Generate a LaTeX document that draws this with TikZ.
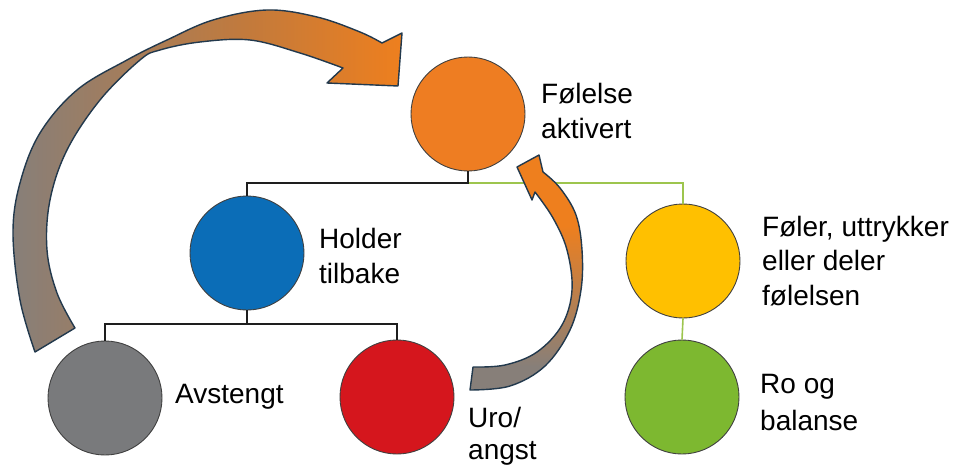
\documentclass[tikz,border=0pt]{standalone}
\usepackage{fontspec}
\setmainfont{Liberation Sans}
\definecolor{corange}{HTML}{EE7D22}
\definecolor{cblue}{HTML}{0B6DB7}
\definecolor{cyellow}{HTML}{FFC000}
\definecolor{cgray}{HTML}{797A7C}
\definecolor{cred}{HTML}{D5161D}
\definecolor{cgreen}{HTML}{7DB830}
\definecolor{cline}{HTML}{1E1E1E}
\definecolor{cgline}{HTML}{9DC54E}
\definecolor{agray}{HTML}{877F79}
\definecolor{abrown}{HTML}{C27A3C}
\definecolor{aorange}{HTML}{EE7F1E}
\definecolor{aedge}{HTML}{22394D}
\pgfdeclarehorizontalshading{bigarrowshade}{100bp}{color(0bp)=(agray); color(25bp)=(agray); color(55bp)=(abrown); color(75bp)=(aorange); color(100bp)=(aorange)}
\pgfdeclareverticalshading{smallarrowshade}{100bp}{color(0bp)=(agray); color(30bp)=(agray); color(60bp)=(aorange); color(100bp)=(aorange)}
\tikzset{
  circ/.style={circle, draw=black!75, line width=0.9pt, minimum size=114pt, inner sep=0pt},
  lbl/.style={anchor=base west, inner sep=0pt, font=\fontsize{28}{34}\selectfont, text=black},
  treeline/.style={draw=cline, line width=1.6pt},
  greenline/.style={draw=cgline, line width=1.6pt},
  arrowedge/.style={draw=aedge, line width=1.4pt, line join=round}
}
\begin{document}
\begin{tikzpicture}[x=1pt,y=-1pt]
\useasboundingbox (0,0) rectangle (960,468);
% circles
\node[circ, fill=corange] (orange) at (468,114) {};
\node[circ, fill=cblue] (blue) at (247,253) {};
\node[circ, fill=cyellow] (yellow) at (683,261) {};
\node[circ, fill=cgray] (gray) at (105,398) {};
\node[circ, fill=cred] (red) at (397,397) {};
\node[circ, fill=cgreen] (green) at (682,397) {};
% connectors
\coordinate (j1) at (468,183);
\coordinate (j2) at (247,324);
\draw[greenline] (j1) -| (yellow.north);
\draw[greenline] (yellow.south) -- (green.north);
\draw[treeline] (orange.south) -- (j1) -| (blue.north);
\draw[treeline] (blue.south) -- (j2) -| (gray.north);
\draw[treeline] (j2) -| (red.north);
% labels
\node[lbl] (t1a) at (541,103) {Følelse};
\node[lbl] (t1b) at (541,138) {aktivert};
\node[lbl] (t2a) at (319,248) {Holder};
\node[lbl] (t2b) at (319,283) {tilbake};
\node[lbl] (t3a) at (762,236) {Føler, uttrykker};
\node[lbl] (t3b) at (762,270) {eller deler};
\node[lbl] (t3c) at (762,305) {følelsen};
\node[lbl] (t4) at (175,403) {Avstengt};
\node[lbl] (t5a) at (468,427) {Uro/};
\node[lbl] (t5b) at (468,459) {angst};
\node[lbl] (t6a) at (760,393) {Ro og};
\node[lbl] (t6b) at (760,430) {balanse};
% big curved arrow
\shadedraw[shading=bigarrowshade, arrowedge]
  plot[smooth, tension=0.6] coordinates {(35,352) (20,300) (13,233) (20,183) (40,133) (77,90) (127,60) (167,40) (213,20) (267,10) (317,17) (360,32) (382,43)}
  -- (402,33) -- (398,86) -- (327,83)
  -- plot[smooth, tension=0.6] coordinates {(343,68) (300,53) (250,40) (200,42) (160,50) (140,60) (100,100) (67,150) (50,200) (47,250) (57,293) (75,328)}
  -- cycle;
% small curved arrow
\shadedraw[shading=smallarrowshade, arrowedge]
  plot[smooth, tension=0.6] coordinates {(470,390) (510,386) (545,366) (570,330) (581,290) (582,250) (576,215) (560,188) (543,172)}
  -- (539,155) -- (517,167) -- (532,200)
  -- plot[smooth, tension=0.6] coordinates {(535,192) (553,218) (567,250) (572,290) (562,325) (537,352) (505,365) (473,367)}
  -- cycle;
\end{tikzpicture}
\end{document}
